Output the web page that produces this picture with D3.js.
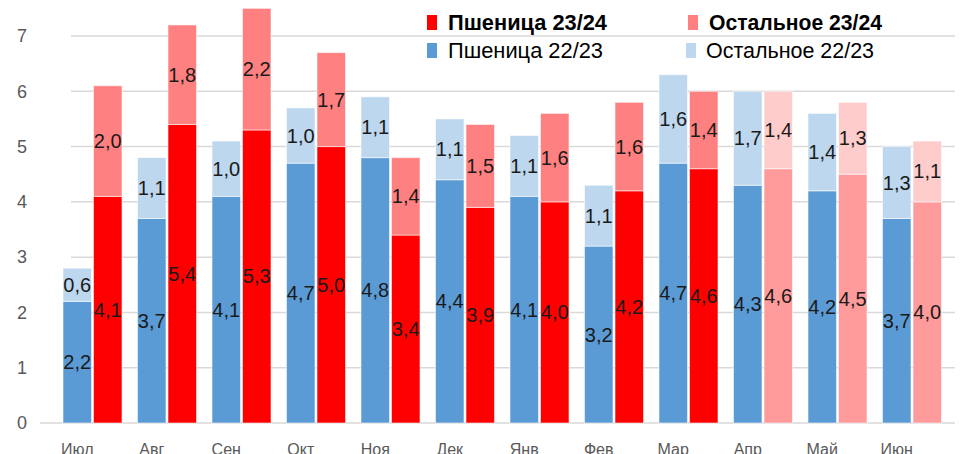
<!DOCTYPE html>
<html>
<head>
<meta charset="utf-8">
<script src="https://cdn.jsdelivr.net/npm/d3@7"></script>
<style>
  body { margin: 0; background: #fff; }
  svg { display: block; font-family: "Liberation Sans", Arial, sans-serif; }
</style>
</head>
<body>
<div id="chart"></div>
<script>
// месяцы и значения
const months = ['Июл', 'Авг', 'Сен', 'Окт', 'Ноя', 'Дек', 'Янв', 'Фев', 'Мар', 'Апр', 'Май', 'Июн'];
const wheat2223 = [2.2, 3.7, 4.1, 4.7, 4.8, 4.4, 4.1, 3.2, 4.7, 4.3, 4.2, 3.7];
const other2223 = [0.6, 1.1, 1.0, 1.0, 1.1, 1.1, 1.1, 1.1, 1.6, 1.7, 1.4, 1.3];
const wheat2324 = [4.1, 5.4, 5.3, 5.0, 3.4, 3.9, 4.0, 4.2, 4.6, 4.6, 4.5, 4.0];
const other2324 = [2.0, 1.8, 2.2, 1.7, 1.4, 1.5, 1.6, 1.6, 1.4, 1.4, 1.3, 1.1];
const forecast = ['Апр', 'Май', 'Июн'];
const yTicks = [0, 1, 2, 3, 4, 5, 6, 7];

const width = 960, height = 454;

const svg = d3.select('#chart').append('svg')
    .attr('width', width)
    .attr('height', height);

const x = d3.scaleBand().domain(months).range([63, 941.5]).paddingInner(0.208).paddingOuter(0);
const x1 = d3.scaleBand().domain(['prev', 'cur']).range([0, x.bandwidth()]).paddingInner(0.066);
const y = d3.scaleLinear().domain([0, 7]).range([423, 36]);

// Сетка
svg.append('g')
    .selectAll('line')
    .data(yTicks.filter(d => d > 0))
    .enter()
    .append('line')
    .attr('x1', 71).attr('x2', 955)
    .attr('y1', d => y(d)).attr('y2', d => y(d))
    .attr('stroke', '#d9d9d9')
    .attr('stroke-width', 1.5);

svg.append('line')
    .attr('x1', 40).attr('x2', 955)
    .attr('y1', y(0)).attr('y2', y(0))
    .attr('stroke', '#d9d9d9')
    .attr('stroke-width', 1.5);

// Подписи оси Y
svg.append('g')
    .selectAll('text')
    .data(yTicks)
    .enter()
    .append('text')
    .attr('x', 22)
    .attr('y', d => y(d))
    .attr('dy', '0.35em')
    .attr('text-anchor', 'middle')
    .attr('font-size', 18)
    .attr('fill', '#595959')
    .text(d => d);

// Сегменты столбцов
const segments = [];
months.forEach((m, i) => {
    const fc = forecast.includes(m);
    segments.push({ m, key: 'prev', y0: 0, y1: wheat2223[i], v: wheat2223[i], color: '#5b9bd5' });
    segments.push({ m, key: 'prev', y0: wheat2223[i], y1: wheat2223[i] + other2223[i], v: other2223[i], color: '#bdd7ee' });
    segments.push({ m, key: 'cur', y0: 0, y1: wheat2324[i], v: wheat2324[i], color: fc ? '#ff9b9b' : '#ff0000' });
    segments.push({ m, key: 'cur', y0: wheat2324[i], y1: wheat2324[i] + other2324[i], v: other2324[i], color: fc ? '#ffcccc' : '#ff8080' });
});

svg.append('g')
    .selectAll('rect')
    .data(segments)
    .enter()
    .append('rect')
    .attr('x', d => x(d.m) + x1(d.key))
    .attr('width', x1.bandwidth())
    .attr('y', d => y(d.y1))
    .attr('height', d => y(d.y0) - y(d.y1))
    .attr('fill', d => d.color)
    .attr('stroke', 'rgba(255,255,255,0.55)')
    .attr('stroke-width', 1);

// Значения
svg.append('g')
    .selectAll('text')
    .data(segments)
    .enter()
    .append('text')
    .attr('x', d => x(d.m) + x1(d.key) + x1.bandwidth() / 2)
    .attr('y', d => y((d.y0 + d.y1) / 2))
    .attr('dy', '0.35em')
    .attr('text-anchor', 'middle')
    .attr('font-size', 20)
    .attr('fill', '#1a1a1a')
    .text(d => d3.format('.1f')(d.v).replace('.', ','));

// Подписи месяцев
svg.append('g')
    .selectAll('text')
    .data(months)
    .enter()
    .append('text')
    .attr('x', d => x(d) + x1('prev') + x1.bandwidth() / 2)
    .attr('y', 455)
    .attr('text-anchor', 'middle')
    .attr('font-size', 16)
    .attr('fill', '#595959')
    .text(d => d);

// Легенда
const legend = [
    { label: 'Пшеница 23/24', color: '#ff0000', bold: true, sx: 427, tx: 448, row: 30, len: 159 },
    { label: 'Остальное 23/24', color: '#ff8080', bold: true, sx: 688, tx: 709, row: 30, len: 173 },
    { label: 'Пшеница 22/23', color: '#5b9bd5', bold: false, sx: 427, tx: 448, row: 58, len: 155 },
    { label: 'Остальное 22/23', color: '#bdd7ee', bold: false, sx: 686, tx: 706, row: 58, len: 168 }
];

const lg = svg.append('g');
lg.selectAll('rect')
    .data(legend)
    .enter()
    .append('rect')
    .attr('x', d => d.sx)
    .attr('y', d => d.row - 15)
    .attr('width', 10)
    .attr('height', 15)
    .attr('fill', d => d.color);

lg.selectAll('text')
    .data(legend)
    .enter()
    .append('text')
    .attr('x', d => d.tx)
    .attr('y', d => d.row)
    .attr('font-size', 22)
    .attr('font-weight', d => d.bold ? 'bold' : 'normal')
    .attr('fill', '#000')
    .attr('textLength', d => d.len)
    .attr('lengthAdjust', 'spacingAndGlyphs')
    .text(d => d.label);
</script>
</body>
</html>
